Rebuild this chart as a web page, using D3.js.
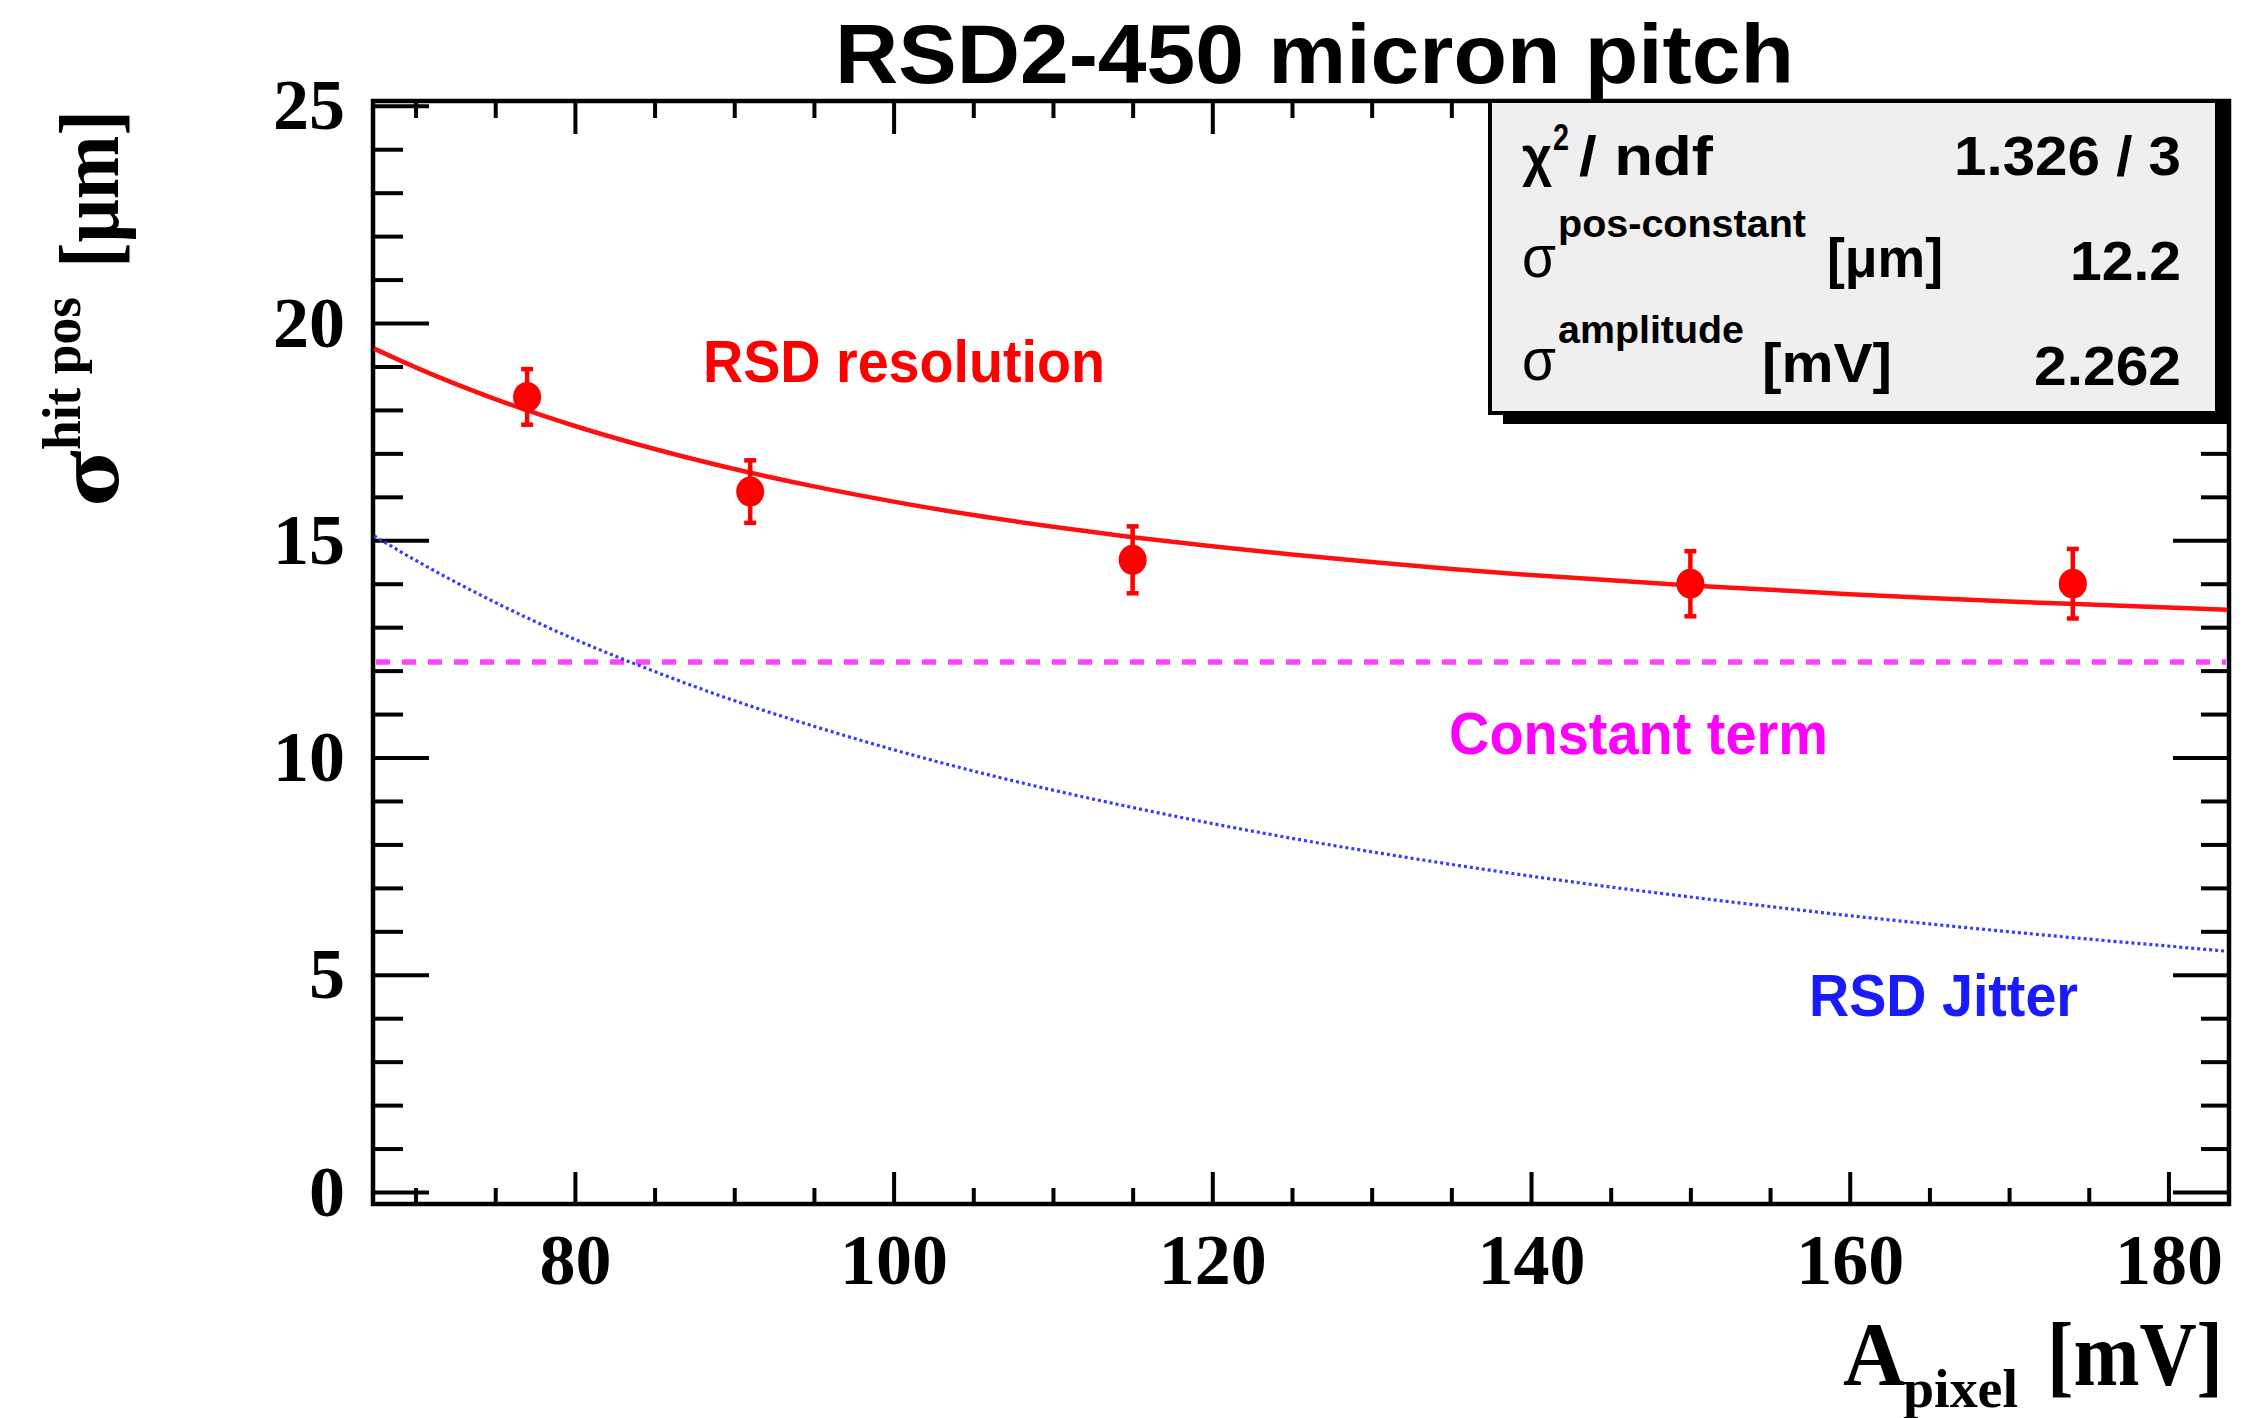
<!DOCTYPE html>
<html>
<head>
<meta charset="utf-8">
<script src="https://cdn.jsdelivr.net/npm/d3@7"></script>
<style>
  html, body { margin: 0; padding: 0; background: #fff; }
  svg { display: block; }
</style>
</head>
<body>
<svg id="chart" width="2260" height="1418"></svg>
<script>
// Measured hit-position resolution vs. pixel amplitude
const amplitude = [77, 91, 115, 150, 174];
const sigmaHit  = [18.30, 16.12, 14.55, 14.00, 14.00];
const sigmaErr  = [0.64, 0.72, 0.77, 0.75, 0.80];

// Fit curve and its two components, sampled along the amplitude axis
const curveA        = [67.4, 70, 75, 80, 85, 90, 95, 100, 105, 110, 115, 120, 125, 130, 135, 140, 145, 150, 155, 160, 165, 170, 175, 180, 183.7];
const resolutionFit = [19.41, 18.98, 18.25, 17.63, 17.10, 16.64, 16.24, 15.89, 15.58, 15.31, 15.07, 14.86, 14.67, 14.50, 14.34, 14.20, 14.08, 13.96, 13.86, 13.76, 13.67, 13.59, 13.52, 13.45, 13.40];
const jitterTerm    = [15.10, 14.54, 13.57, 12.72, 11.98, 11.31, 10.72, 10.18, 9.69, 9.25, 8.85, 8.48, 8.14, 7.83, 7.54, 7.27, 7.02, 6.79, 6.57, 6.36, 6.17, 5.99, 5.82, 5.66, 5.54];
const constantTerm  = 12.2;

// Axis ticks
const xMajorTicks = [80, 100, 120, 140, 160, 180];
const xMinorTicks = [70, 75, 85, 90, 95, 105, 110, 115, 125, 130, 135, 145, 150, 155, 165, 170, 175];
const yMajorTicks = [0, 5, 10, 15, 20, 25];
const yMinorTicks = [1, 2, 3, 4, 6, 7, 8, 9, 11, 12, 13, 14, 16, 17, 18, 19, 21, 22, 23, 24];

// Fit statistics box
const statValues = ["1.326 / 3", "12.2", "2.262"];

const svg = d3.select("#chart");
const W = 2260, H = 1418;
const frame = { left: 373, right: 2229, top: 101, bottom: 1204 };

const x = d3.scaleLinear().domain([67.33, 183.8]).range([frame.left, frame.right]);
const y = d3.scaleLinear().domain([-0.276, 25.11]).range([frame.bottom, frame.top]);

const serif = "'Liberation Serif', 'Times New Roman', Times, serif";
const sans  = "'Liberation Sans', Arial, Helvetica, sans-serif";

svg.append("rect").attr("width", W).attr("height", H).attr("fill", "#fff");

// ---- Axes (ticks point inward, as in ROOT) ----
function styleAxis(g, withLabels) {
  g.select(".domain").remove();
  g.selectAll(".tick line").attr("stroke", "#000").attr("stroke-width", 4);
  if (!withLabels) g.selectAll(".tick text").remove();
  else g.selectAll(".tick text")
        .attr("fill", "#000")
        .style("font-family", serif)
        .style("font-weight", "bold")
        .style("font-size", "72px");
}

// bottom
svg.append("g").attr("transform", `translate(0,${frame.bottom})`)
  .call(d3.axisBottom(x).tickValues(xMajorTicks).tickSize(-32).tickPadding(29).tickFormat(d3.format("d")))
  .call(g => styleAxis(g, true));
svg.append("g").attr("transform", `translate(0,${frame.bottom})`)
  .call(d3.axisBottom(x).tickValues(xMinorTicks).tickSize(-16))
  .call(g => styleAxis(g, false));
// top
svg.append("g").attr("transform", `translate(0,${frame.top})`)
  .call(d3.axisTop(x).tickValues(xMajorTicks).tickSize(-33))
  .call(g => styleAxis(g, false));
svg.append("g").attr("transform", `translate(0,${frame.top})`)
  .call(d3.axisTop(x).tickValues(xMinorTicks).tickSize(-17))
  .call(g => styleAxis(g, false));
// left
svg.append("g").attr("transform", `translate(${frame.left},0)`)
  .call(d3.axisLeft(y).tickValues(yMajorTicks).tickSize(-56).tickPadding(28).tickFormat(d3.format("d")))
  .call(g => styleAxis(g, true));
svg.append("g").attr("transform", `translate(${frame.left},0)`)
  .call(d3.axisLeft(y).tickValues(yMinorTicks).tickSize(-30))
  .call(g => styleAxis(g, false));
// right
svg.append("g").attr("transform", `translate(${frame.right},0)`)
  .call(d3.axisRight(y).tickValues(yMajorTicks).tickSize(-56))
  .call(g => styleAxis(g, false));
svg.append("g").attr("transform", `translate(${frame.right},0)`)
  .call(d3.axisRight(y).tickValues(yMinorTicks).tickSize(-28))
  .call(g => styleAxis(g, false));

// frame
svg.append("rect")
  .attr("x", frame.left).attr("y", frame.top)
  .attr("width", frame.right - frame.left).attr("height", frame.bottom - frame.top)
  .attr("fill", "none").attr("stroke", "#000").attr("stroke-width", 4.5);

// ---- Curves ----
const plot = svg.append("g");
const line = d3.line().x(d => x(d[0])).y(d => y(d[1])).curve(d3.curveMonotoneX);

// constant term
plot.append("line")
  .attr("x1", frame.left + 3).attr("x2", frame.right - 3)
  .attr("y1", y(constantTerm)).attr("y2", y(constantTerm))
  .attr("stroke", "#ff44ff").attr("stroke-width", 5.5)
  .attr("stroke-dasharray", "14 12");

// jitter term
plot.append("path")
  .datum(curveA.map((a, i) => [a, jitterTerm[i]]))
  .attr("d", line)
  .attr("fill", "none").attr("stroke", "#3a3aff").attr("stroke-width", 3.2)
  .attr("stroke-dasharray", "3 3");

// total resolution fit
plot.append("path")
  .datum(curveA.map((a, i) => [a, resolutionFit[i]]))
  .attr("d", line)
  .attr("fill", "none").attr("stroke", "#ff1010").attr("stroke-width", 4.5);

// ---- Data points with error bars ----
const pts = plot.selectAll("g.pt").data(amplitude.map((a, i) => ({ a, s: sigmaHit[i], e: sigmaErr[i] })))
  .join("g").attr("class", "pt");
pts.append("line")
  .attr("x1", d => x(d.a)).attr("x2", d => x(d.a))
  .attr("y1", d => y(d.s + d.e)).attr("y2", d => y(d.s - d.e))
  .attr("stroke", "#ff0000").attr("stroke-width", 4.5);
pts.append("line")
  .attr("x1", d => x(d.a) - 6).attr("x2", d => x(d.a) + 6)
  .attr("y1", d => y(d.s + d.e)).attr("y2", d => y(d.s + d.e))
  .attr("stroke", "#ff0000").attr("stroke-width", 4.5);
pts.append("line")
  .attr("x1", d => x(d.a) - 6).attr("x2", d => x(d.a) + 6)
  .attr("y1", d => y(d.s - d.e)).attr("y2", d => y(d.s - d.e))
  .attr("stroke", "#ff0000").attr("stroke-width", 4.5);
pts.append("ellipse")
  .attr("cx", d => x(d.a)).attr("cy", d => y(d.s))
  .attr("rx", 14).attr("ry", 15)
  .attr("fill", "#ff0000");

// ---- In-plot labels ----
function label(txt, px, py, size, len, color, family, weight) {
  return svg.append("text")
    .attr("x", px).attr("y", py)
    .attr("textLength", len).attr("lengthAdjust", "spacingAndGlyphs")
    .attr("fill", color)
    .style("font-family", family || sans)
    .style("font-weight", weight || "bold")
    .style("font-size", size + "px")
    .text(txt);
}
label("RSD resolution", 703, 382, 60, 402, "#ff0000");
label("Constant term", 1449, 754, 60, 379, "#ff00ff");
label("RSD Jitter", 1809, 1016, 60, 269, "#1a1aff");

// ---- Title ----
label("RSD2-450 micron pitch", 835, 83, 84, 959, "#000");

// ---- Axis titles ----
// x title: A_pixel [mV]
label("A", 1843, 1385, 90, 62, "#000", serif);
label("pixel", 1903, 1407, 54, 115, "#000", serif);
label("[mV]", 2047, 1385, 90, 176, "#000", serif);

// y title: σ^{hit pos} [μm], rotated
const yt = svg.append("g").attr("transform", "translate(118,0) rotate(-90)");
function ylabel(txt, start, end, base, size) {
  yt.append("text")
    .attr("x", -start).attr("y", base)
    .attr("textLength", start - end).attr("lengthAdjust", "spacingAndGlyphs")
    .attr("fill", "#000")
    .style("font-family", serif).style("font-weight", "bold").style("font-size", size + "px")
    .text(txt);
}
ylabel("σ", 507, 450, 0, 90);
ylabel("hit pos", 450, 297, -38, 54);
ylabel("[μm]", 268, 110, 0, 84);

// ---- Statistics box ----
const box = { x0: 1490, y0: 101, x1: 2217, y1: 413, shadow: 13 };
svg.append("rect")
  .attr("x", box.x0 + box.shadow).attr("y", box.y0 + 2)
  .attr("width", box.x1 - box.x0).attr("height", box.y1 - box.y0 + box.shadow - 4)
  .attr("fill", "#000");
svg.append("rect")
  .attr("x", box.x0).attr("y", box.y0)
  .attr("width", box.x1 - box.x0).attr("height", box.y1 - box.y0)
  .attr("fill", "#efefef").attr("stroke", "#000").attr("stroke-width", 4);

// row 1
label("χ", 1522, 175, 56, 30, "#000");
label("2", 1553, 150, 36, 16, "#000");
label("/ ndf", 1579, 175, 56, 134, "#000");
// row 2
label("σ", 1522, 277, 60, 34, "#000", sans, "normal");
label("pos-constant", 1558, 237, 38, 248, "#000");
label("[μm]", 1827, 277, 56, 116, "#000");
// row 3
label("σ", 1522, 380, 60, 34, "#000", sans, "normal");
label("amplitude", 1558, 343, 38, 186, "#000");
label("[mV]", 1762, 382, 56, 130, "#000");

const valueWidths = [227, 111, 147];
const valueBase = [175, 280, 385];
statValues.forEach((v, i) => {
  label(v, 2181 - valueWidths[i], valueBase[i], 56, valueWidths[i], "#000");
});
</script>
</body>
</html>
